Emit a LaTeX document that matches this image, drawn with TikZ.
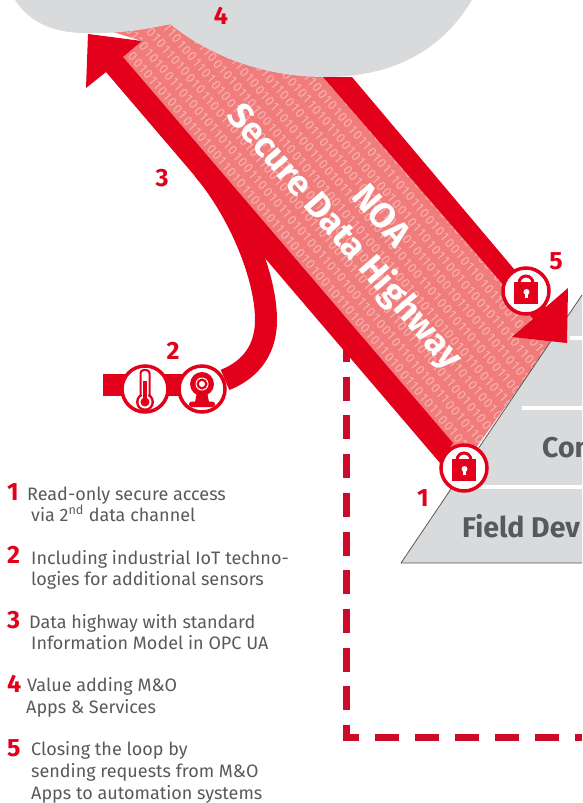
\documentclass[tikz,border=0pt]{standalone}
\usepackage{fontspec}
\setmainfont{Fira Sans}
\newfontfamily\digitfont[LetterSpace=10]{Fira Sans}
\definecolor{noared}{HTML}{E2001A}
\definecolor{noapink}{HTML}{F07C7C}
\definecolor{noadigit}{HTML}{F8B4B0}
\definecolor{noagrey}{HTML}{D9DADC}
\definecolor{noatext}{HTML}{58595B}
\definecolor{noadash}{HTML}{CE0A2A}
\pgfdeclarelayer{front}
\pgfsetlayers{main,front}
\tikzset{
    numlabel/.style={text=noared,font=\fontsize{25}{25}\selectfont\bfseries,inner sep=0pt},
    legendnum/.style={text=noared,font=\fontsize{25}{25}\selectfont\bfseries,inner sep=0pt,anchor=base west},
    legendtext/.style={text=noatext,font=\fontsize{18}{18}\selectfont,inner sep=0pt,anchor=base west},
    badge/.style={circle,draw=noared,fill=white,line width=3.5pt,minimum size=46pt,inner sep=0pt},
    levellabel/.style={text=noatext,font=\fontsize{28.5}{28.5}\selectfont\bfseries,inner sep=0pt,anchor=base west},
    highway/.style={text=white,font=\fontsize{35.5}{35.5}\selectfont\bfseries,inner sep=0pt,rotate=-49},
    digits/.style={text=noadigit,font=\digitfont\fontsize{13}{13}\selectfont,inner sep=0pt,rotate=-49.5,anchor=west},
    padlock/.pic={
        \draw[noared,line width=3pt] (-7,-8) arc (180:360:7);
        \fill[noared] (-12,-9) rectangle (12,13);
        \fill[white] (0.5,1) circle (3);
        \fill[white] (-0.7,1) rectangle (1.7,7);
    },
    thermometer/.pic={
        \fill[noared,rounded corners=4pt] (-5.5,-20) rectangle (5.5,10);
        \fill[noared] (0,13) circle (9);
        \fill[white,rounded corners=3pt] (-3.5,-18) rectangle (3.5,8);
        \fill[white] (0,13) circle (6.5);
        \fill[noared] (-2,-8) rectangle (2,11);
        \fill[noared] (0,13) circle (4.5);
    },
    webcam/.pic={
        \fill[noared] (-5,3) -- (5,3) -- (7,13) -- (-7,13) -- cycle;
        \fill[noared,rounded corners=2.5pt] (-13,12.7) rectangle (13,18);
        \fill[noared] (0,-5) circle (12);
        \fill[white] (0,-5) circle (6.5);
        \fill[noared] (0,-5) circle (5.5);
        \fill[white] (0,-5) circle (3);
    }
}
\begin{document}
\begin{tikzpicture}[x=1pt,y=-1pt]
    \useasboundingbox (0,0) rectangle (582,803);
    \begin{pgfonlayer}{front}
        \node[badge] (lockone) at (464,468) {};
        \node[badge] (lockfive) at (526,291) {};
        \node[badge] (thermo) at (145,389) {};
        \node[badge] (camera) at (202,389) {};
        \pic at (lockone) {padlock};
        \pic at (lockfive) {padlock};
        \pic at (thermo) {thermometer};
        \pic at (camera) {webcam};
    \end{pgfonlayer}
    % band
    \fill[noapink] (123,57) -- (142,41) -- (100,28) -- (170,20) -- (310,60) -- (533,319) -- (560,330) -- (463,466) -- cycle;
    \begin{scope}
        \clip (123,57) -- (142,41) -- (100,28) -- (170,20) -- (310,60) -- (533,319) -- (560,330) -- (463,466) -- cycle;
        \foreach \r/\bits in {0/10100101101001011010011010110010110100,
            1/01101010011010010110101001100101101010,
            2/10010110100101100110101011001010010110,
            3/01011010011010100101100110101001011010,
            4/11010010110010101101001011001011010010,
            5/00101101010011010010110101001100101101,
            6/10110010101101001011001010110101100101,
            7/01001011010110010100101101011001010010,
            8/10101100101001011010110010100101101011,
            9/01010010110101100101001011010110010100}
        {
            \pgfmathsetmacro{\rx}{116+\r*11.4}
            \pgfmathsetmacro{\ry}{37-\r*9.75}
            \node[digits] (row\r) at (\rx,\ry) {\bits\bits};
        }
    \end{scope}
    % cloud
    \fill[noagrey] (15,0) .. controls (28,20) and (50,33) .. (85,33)
        .. controls (115,34) and (145,30) .. (170,24)
        .. controls (215,60) and (270,77) .. (325,77)
        .. controls (400,77) and (445,45) .. (472,0) -- cycle;
    % pyramid
    \fill[noagrey] (401,563) -- (582,295) -- (582,563) -- cycle;
    \draw[noatext,line width=0.8pt] (582,295) -- (401,563) -- (582,563);
    \draw[white,line width=3.5pt] (452,487) -- (582,487);
    \draw[white,line width=3.5pt] (522,408) -- (582,408);
    \draw[white,line width=3.5pt] (570,338) -- (582,338);
    \node[levellabel] (control) at (542,457) {Con};
    \node[levellabel] (field) at (462,537) {Field Dev};
    % dashed loop
    \coordinate (loopstart) at (346,348);
    \coordinate (loopcorner) at (346,740.5);
    \coordinate (loopturn) at (342.5,737);
    \coordinate (loopend) at (582,737);
    \draw[noadash,line width=7pt,dash pattern=on 24pt off 14.7pt,dash phase=10pt] (loopstart) -- (loopcorner);
    \draw[noadash,line width=7pt,dash pattern=on 24pt off 16pt,dash phase=8pt] (loopturn) -- (loopend);
    % arrows
    \fill[noared] (352,77) -- (546,307) -- (568,288) -- (567,343) -- (512,337) -- (533,319) -- (323,77) -- cycle;
    \fill[noared] (88,34) -- (142,41) -- (123,57) -- (453,443) -- (440,463) -- (106,72) -- (86,88) -- cycle;
    \coordinate (branch) at (203,169);
    \coordinate (barend) at (103,385);
    \draw[noared,line width=22pt] (branch) .. controls (238,210) and (266,275) .. (266,320)
        .. controls (266,355) and (245,372) .. (camera);
    \draw[noared,line width=22pt] (barend) -- (barend -| camera);
    % highway text
    \node[highway] (noa) at (382,215) {NOA};
    \node[highway] (secure) at (344,237) {Secure Data Highway};
    % numbers
    \node[numlabel] (n4) at (221,16) {4};
    \node[numlabel] (n3) at (162,178) {3};
    \node[numlabel] (n2) at (173,351) {2};
    \node[numlabel] (n5) at (556,261) {5};
    \node[numlabel] (n1) at (423,498) {1};
    % legend
    \foreach \i/\py in {1/500,2/563,3/628,4/692,5/756}
        \node[legendnum] (num\i) at (7,\py) {\i};
    \foreach \px/\py/\txt [count=\n] in {27/500/Read-only secure access,
        31/521/via 2\textsuperscript{nd} data channel,
        31/564/Including industrial IoT techno-,
        31/585/logies for additional sensors,
        29/628/Data highway with standard,
        31/649/Information Model in OPC UA,
        27/691/Value adding M\&O,
        26/713/Apps \& Services,
        31/755/Closing the loop by,
        31/777/sending requests from M\&O,
        31/799/Apps to automation systems}
        \node[legendtext] (line\n) at (\px,\py) {\txt};
\end{tikzpicture}
\end{document}
